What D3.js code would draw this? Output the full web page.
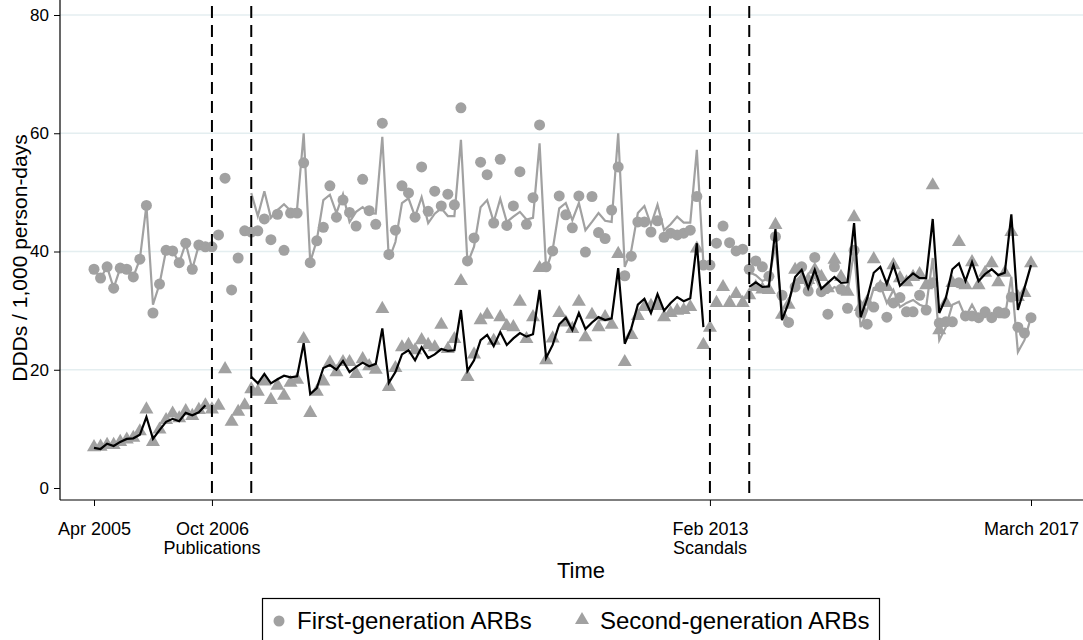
<!DOCTYPE html>
<html>
<head>
<meta charset="utf-8">
<script src="https://cdn.jsdelivr.net/npm/d3@7"></script>
<style>
  body { margin: 0; background: #fff; }
  text { font-family: "Liberation Sans", Arial, sans-serif; }
</style>
</head>
<body>
<div id="chart"></div>
<script>
// monthly observations, Apr 2005 (index 0) to March 2017 (index 143)
const firstGen = [
  37.0,35.5,37.4,33.8,37.2,37.0,35.7,38.7,47.8,29.6,34.5,40.2,40.1,38.1,41.4,37.0,41.1,40.8,40.8,
  42.8,52.4,33.5,38.9,43.5,
  43.3,43.5,45.5,42.0,46.3,40.2,46.5,46.5,55.0,38.1,41.8,44.1,51.1,45.8,
  48.7,46.6,44.3,52.2,46.9,44.6,61.7,39.5,43.6,51.1,49.9,45.8,54.3,46.8,50.2,47.7,49.7,47.9,
  64.3,38.4,42.3,55.1,53.0,44.8,55.6,44.4,47.7,53.5,44.6,49.1,61.4,37.4,40.1,49.4,46.2,44.0,49.4,
  39.9,49.3,43.2,42.2,47.0,54.3,35.9,39.2,45.0,45.0,43.3,45.2,42.4,43.1,42.8,43.1,43.6,49.3,37.7,
  37.7,41.4,44.3,41.5,40.1,40.4,
  37.0,38.4,37.4,35.8,42.5,32.6,28.0,34.0,37.4,33.3,39.0,33.2,29.4,37.4,33.6,30.4,
  40.2,29.6,27.7,30.6,34.0,28.9,31.3,32.2,29.8,29.8,32.6,30.1,34.7,27.9,28.1,28.1,34.7,29.1,29.1,28.8,
  29.8,28.8,29.8,29.6,32.3,27.2,26.2,28.8
];
const secondGen = [
  6.9,7.0,7.3,7.3,7.8,8.2,8.5,9.6,13.3,7.8,9.9,11.5,12.6,11.8,13.0,12.2,13.2,14.0,13.3,
  13.9,20.1,11.2,12.9,14.0,
  16.7,16.3,18.0,14.9,17.3,15.6,17.8,18.3,25.2,12.7,16.3,18.0,21.2,19.6,
  21.3,21.3,19.3,21.8,20.6,20.0,30.3,17.1,20.3,23.8,24.2,23.3,25.0,24.2,23.8,27.6,23.5,25.2,
  35.0,18.8,22.6,28.4,29.3,24.9,28.9,27.4,27.2,31.5,25.2,28.9,37.2,21.6,25.3,29.6,28.0,26.9,31.5,
  25.5,29.3,27.2,28.9,27.6,39.6,21.3,25.9,29.1,30.6,30.8,30.8,28.9,29.6,30.0,30.1,30.6,40.5,24.2,
  27.1,31.3,34.0,31.3,32.8,31.3,
  32.6,34.0,33.6,33.5,44.5,29.3,31.0,36.9,35.2,35.2,36.9,35.7,33.8,38.6,35.7,33.2,
  45.8,30.6,31.5,38.7,34.0,34.0,37.7,35.5,34.8,35.7,36.2,34.3,51.2,26.7,31.3,34.7,41.6,34.3,38.2,34.3,
  36.4,38.0,34.8,36.4,43.3,32.3,33.0,38.0
];
// fitted values, null where the segment is left out
const firstFit = [
  37.0,35.5,37.4,33.8,37.2,37.0,35.7,38.7,47.8,31.0,34.5,40.2,40.1,38.1,41.4,37.0,41.1,40.8,
  null,null,null,null,null,null,
  49.9,46.0,50.2,45.7,47.0,48.0,46.9,47.3,60.0,38.2,41.9,48.7,49.6,46.5,
  49.7,45.0,46.7,47.5,46.5,46.4,59.4,38.6,41.6,48.2,49.0,45.9,49.2,44.8,46.4,47.3,46.0,46.0,
  58.9,38.0,40.8,47.5,48.7,45.0,48.9,45.0,45.9,46.7,45.4,45.7,58.3,36.9,40.3,47.3,48.2,45.3,48.2,
  43.6,45.0,46.5,45.2,45.0,60.0,37.4,40.2,46.5,47.7,44.5,47.9,43.6,44.6,45.9,44.9,44.9,57.2,38.0,
  null,null,null,null,null,null,
  36.5,36.0,35.0,35.5,41.0,30.0,31.5,35.0,36.0,33.0,36.0,33.0,33.0,34.0,33.5,33.2,
  40.0,27.2,30.1,33.8,34.3,31.3,33.5,30.6,31.3,31.8,31.0,30.6,38.9,25.0,27.2,31.0,31.5,28.9,31.0,28.9,
  28.9,29.6,28.9,28.9,35.7,23.0,25.0,28.9
];
const secondFit = [
  6.8,6.6,7.5,7.1,7.8,8.3,8.4,9.0,12.0,8.3,9.8,11.2,11.7,11.3,12.7,12.3,12.8,14.0,
  null,null,null,null,null,null,
  18.8,17.7,19.3,17.7,18.4,19.0,18.7,18.9,24.5,15.9,16.9,20.3,20.8,20.0,
  21.5,19.6,20.5,21.2,20.6,21.0,27.0,17.8,19.6,22.6,23.3,21.6,23.8,22.0,22.6,23.5,23.2,23.3,
  30.1,19.8,21.6,25.0,25.9,24.0,26.4,24.2,25.3,26.2,25.6,26.0,33.5,22.0,24.2,27.7,28.8,26.7,29.6,
  26.9,28.0,28.9,28.4,28.7,37.2,24.4,27.0,31.0,32.0,29.6,32.8,30.0,31.3,32.3,31.6,32.1,41.4,27.2,
  null,null,null,null,null,null,
  34.0,34.8,34.0,34.1,43.8,28.4,31.3,35.7,36.9,33.8,36.9,33.7,34.7,35.7,34.7,34.8,
  44.8,28.9,32.1,36.4,37.4,34.5,37.7,34.2,35.3,36.3,35.5,35.5,45.5,29.6,32.1,37.0,38.0,35.0,38.2,35.0,
  36.2,37.0,36.0,36.4,46.3,30.1,33.8,37.7
];
const xTicks = [0, 18, 94, 143];
const xTickLabels = ['Apr 2005', 'Oct 2006', 'Feb 2013', 'March 2017'];
const xTickSub = ['', 'Publications', 'Scandals', ''];
const breaks = [18, 24, 94, 100];
const yTicks = [0, 20, 40, 60, 80];
const legendLabels = ['First-generation ARBs', 'Second-generation ARBs'];

const w = 1083;
const h = 640;
const grey = '#a1a1a1';

const svg = d3.select('#chart')
              .append('svg')
              .attr('width', w)
              .attr('height', h);

const xScale = d3.scaleLinear().domain([0, 143]).range([94, 1031]);
const yScale = d3.scaleLinear().domain([0, 80]).range([488, 15]);

// grid
svg.append('g')
   .selectAll('line')
   .data(yTicks.slice(1))
   .enter()
   .append('line')
   .attr('x1', 60).attr('x2', w)
   .attr('y1', d => yScale(d)).attr('y2', d => yScale(d))
   .attr('stroke', '#e4eef0')
   .attr('stroke-width', 1.5);

// axes
const yAxis = d3.axisLeft(yScale).tickValues(yTicks).tickSize(6).tickPadding(5);
svg.append('g')
   .attr('transform', 'translate(60, 0)')
   .call(yAxis)
   .call(g => g.select('.domain').attr('d', 'M0,0V500').attr('stroke-width', 1.2))
   .call(g => g.selectAll('text').attr('font-size', 17).attr('fill', '#000'));

const xAxis = d3.axisBottom(xScale).tickValues(xTicks).tickFormat((d, i) => xTickLabels[i]).tickSize(6);
svg.append('g')
   .attr('transform', 'translate(0, 500)')
   .call(xAxis)
   .call(g => g.select('.domain').attr('d', 'M60,0H' + w).attr('stroke-width', 1.2))
   .call(g => g.selectAll('text').attr('font-size', 18).attr('fill', '#000').attr('dy', '0').attr('y', 35));

svg.append('g')
   .selectAll('text')
   .data(xTicks)
   .enter()
   .append('text')
   .attr('x', d => xScale(d))
   .attr('y', 554)
   .attr('text-anchor', 'middle')
   .attr('font-size', 18)
   .text((d, i) => xTickSub[i]);

svg.append('text')
   .text('Time')
   .attr('x', 581)
   .attr('y', 578)
   .attr('text-anchor', 'middle')
   .attr('font-size', 22);

svg.append('text')
   .text('DDDs / 1,000 person-days')
   .attr('transform', 'translate(27, 258) rotate(-90)')
   .attr('text-anchor', 'middle')
   .attr('font-size', 21);

// markers
const tri = d3.symbol().type(d3.symbolTriangle).size(85);
svg.append('g')
   .selectAll('path')
   .data(secondGen)
   .enter()
   .append('path')
   .attr('d', tri)
   .attr('transform', (d, i) => 'translate(' + xScale(i) + ',' + yScale(d) + ')')
   .attr('fill', grey);

svg.append('g')
   .selectAll('circle')
   .data(firstGen)
   .enter()
   .append('circle')
   .attr('cx', (d, i) => xScale(i))
   .attr('cy', d => yScale(d))
   .attr('r', 5.5)
   .attr('fill', grey);

// fitted lines
const line = d3.line()
               .defined(d => d !== null)
               .x((d, i) => xScale(i))
               .y(d => yScale(d));

svg.append('path')
   .attr('d', line(firstFit))
   .attr('fill', 'none')
   .attr('stroke', grey)
   .attr('stroke-width', 2.2);

svg.append('path')
   .attr('d', line(secondFit))
   .attr('fill', 'none')
   .attr('stroke', '#000')
   .attr('stroke-width', 2.2);

// interruption lines
svg.append('g')
   .selectAll('line')
   .data(breaks)
   .enter()
   .append('line')
   .attr('x1', d => xScale(d)).attr('x2', d => xScale(d))
   .attr('y1', 6).attr('y2', 500)
   .attr('stroke', '#000')
   .attr('stroke-width', 2)
   .attr('stroke-dasharray', '12,7');

// legend
const legend = svg.append('g');
legend.append('rect')
      .attr('x', 262.5).attr('y', 598.5)
      .attr('width', 617).attr('height', 50)
      .attr('fill', '#fff')
      .attr('stroke', '#000')
      .attr('stroke-width', 1.2);
legend.append('circle')
      .attr('cx', 279).attr('cy', 621)
      .attr('r', 5.5)
      .attr('fill', grey);
legend.append('path')
      .attr('d', tri)
      .attr('transform', 'translate(582, 620)')
      .attr('fill', grey);
legend.selectAll('text')
      .data(legendLabels)
      .enter()
      .append('text')
      .attr('x', (d, i) => i === 0 ? 297 : 600)
      .attr('y', 629)
      .attr('font-size', 24)
      .text(d => d);
</script>
</body>
</html>
